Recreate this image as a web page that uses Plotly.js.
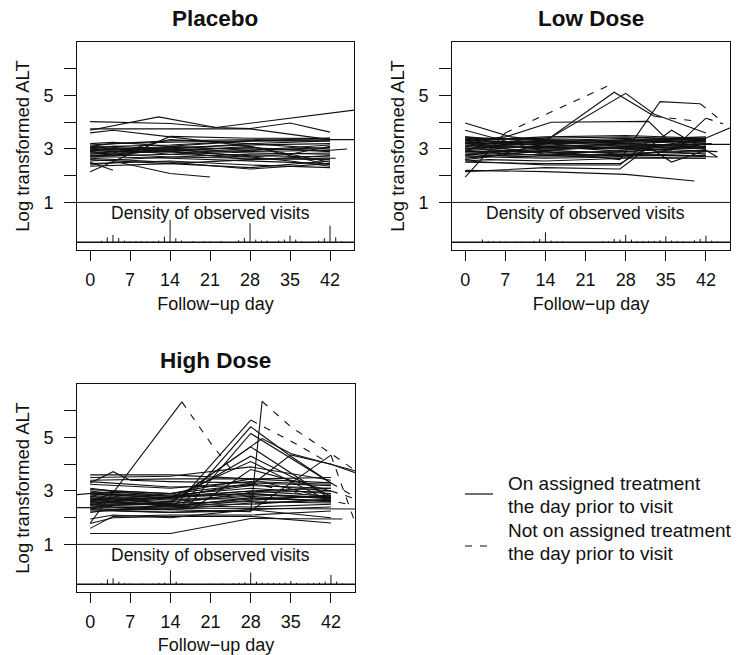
<!DOCTYPE html>
<html><head><meta charset="utf-8">
<script src="https://cdn.plot.ly/plotly-3.0.1.min.js"></script>
<style>html,body{margin:0;padding:0;background:#fff}#chart{width:737px;height:655px}</style>
</head><body><div id="chart"></div>
<script>
// ---------------- data ----------------
const panelTitles = ['Placebo', 'Low Dose', 'High Dose'];
const dayTicks = [0, 7, 14, 21, 28, 35, 42];
const altTickVals = [1, 2, 3, 4, 5, 6];
const altTickText = ['1', '', '3', '', '5', ''];
const legendLabels = ['On assigned treatment', 'the day prior to visit', 'Not on assigned treatment', 'the day prior to visit'];

// Placebo: visit days and log ALT per subject
const placeboDays = [
  [0,12,22,48],[0,14,22,28,35,42],[0,28,42,48],[0,4,14,28,42],[0,5,14,21],
  [0,14,28,42],[0,4],[0,4,14,28,42],[0,4,14,28,42],[0,3,14,28,42],
  [0,4,14,28,42],[0,3,14,28,42,45],[0,4,14,28,42],[0,4,14,28,42,43],[0,4,14,28,35,42],
  [0,4,14,28,42],[0,4,14,28,42],[0,4,14,28,42],[0,4,14,28,42],[0,4,14,28,42],
  [0,4,14,28,42],[0,4,14,28,42],[0,4,14,28,42],[0,14,28,42],[0,4,14,28,42],
  [0,4,14,28,35,42],[0,4,14,28,42],[0,4,14,28,42],[0,4,14,28,42],[0,4,14,28,42],
  [0,4,14,28,42],[0,14,28,42]
];
const placeboALT = [
  [3.7,4.2,3.8,4.5],[4.02,3.95,3.8,3.76,3.97,3.63],[3.75,3.75,3.35,3.35],[3.6,3.7,3.45,3.1,2.4],[2.4,2.5,2.08,1.95],
  [2.15,3.47,3.4,3.4],[2.5,2.2],[3.1,3.2,3.3,3.35,3.4],[3.05,3.1,3.0,3.2,3.3],[3.0,2.95,3.1,3.3,3.35],
  [2.95,2.9,2.9,2.75,2.7],[2.9,3.0,3.05,3.0,2.95,3.0],[2.85,2.8,2.7,2.65,2.6],[2.8,2.85,2.9,2.6,2.65,2.65],[2.75,2.75,3.0,2.7,2.55,2.35],
  [2.7,2.7,2.65,2.55,2.45],[2.65,2.6,2.5,2.25,2.45],[2.6,2.55,2.45,2.3,2.55],[2.55,2.6,2.7,2.8,2.85],[3.0,3.1,3.15,3.3,3.3],
  [3.15,3.2,3.25,3.3,3.4],[2.9,2.85,3.35,3.2,3.0],[2.75,2.8,2.95,3.05,2.9],[2.45,2.55,2.4,2.3],[3.05,3.0,2.9,3.1,2.5],
  [2.95,3.0,2.8,2.7,2.8,3.1],[3.2,3.25,3.1,2.95,3.15],[3.1,3.05,2.95,2.85,2.8],[2.85,2.9,3.05,3.15,3.2],[2.7,2.75,2.8,2.95,3.05],
  [3.0,2.95,3.0,2.9,2.95],[2.35,2.45,2.6,2.75]
];

// Low dose
const lowDays = [
  [0,7,25],[0,4,14,26,33,40],[0,4,15,28,33,42],[0,4,14,27,34,41,45],[0,4,14,28,36,42,45],
  [0,4,14,28,41,47],[0,7,15,32,35,42],[0,8,14,28,42],[0,13,28,42],[0,14,28,40],
  [0,14,27,36,44],[0,14,27,32,36,42],[0,14,27,32,42],[0,4,14,28,42,48],[0,4,14,28,42],
  [0,4,14,28,42],[0,3,14,28,42],[0,4,14,28,42],[0,4,14,28,43],[0,3,14,28,42],
  [0,4,14,28,42],[0,4,14,28,44],[0,4,14,28,42],[0,3,14,28,42],[0,4,14,28,42],
  [0,4,14,28,44],[0,4,14,28,42],[0,4,14,28,42],[0,3,14,28,42],[0,4,14,28,42],
  [0,4,14,28,42],[0,4,14,28,42],[0,4,14,28,42],[0,4,14,28,42],[0,4,14,28,42],
  [0,4,14,28,42],[0,4,14,28,42],[0,4,14,28,42],[0,4,14,28,42],[0,4,14,28,42]
];
const lowALT = [
  [1.95,3.6,5.37],[3.0,3.1,3.3,5.12,4.22,4.05],[3.2,3.2,3.44,5.08,4.3,3.6],[2.9,2.9,2.9,2.6,4.77,4.69,4.0],[3.1,3.0,3.1,3.0,2.95,4.15,3.94],
  [3.2,3.1,3.2,3.0,3.32,3.86],[3.3,3.45,4.0,4.03,3.4,3.3],[3.97,3.45,3.3,3.2,3.1],[3.7,2.95,2.85,2.9],[2.2,2.15,2.05,1.8],
  [2.15,2.3,2.25,3.7,2.7],[2.5,2.45,2.45,3.07,2.51,2.95],[2.55,2.4,2.4,3.3,3.35],[3.0,3.1,3.05,3.15,3.17,3.17],[3.45,3.4,3.35,3.3,3.4],
  [3.4,3.35,3.4,3.45,3.35],[3.35,3.3,3.2,3.25,3.3],[3.3,3.2,3.3,3.4,3.2],[3.25,3.25,3.15,3.1,3.2],[3.2,3.3,3.1,3.2,3.05],
  [3.15,3.05,3.1,2.9,3.1],[3.1,3.15,3.0,3.05,2.9],[3.05,2.95,2.95,2.8,2.95],[3.0,3.0,2.85,2.9,3.1],[2.95,3.1,2.8,2.75,2.75],
  [2.9,2.85,2.75,2.8,2.7],[2.85,2.8,2.9,2.7,2.65],[2.8,2.75,2.7,2.75,2.85],[2.75,2.7,2.95,3.1,3.0],[2.7,2.7,2.65,2.7,3.2],
  [2.65,2.75,2.8,2.95,3.3],[2.6,2.7,3.2,3.3,3.25],[3.4,3.3,3.25,3.35,3.45],[2.55,2.6,2.55,2.65,2.65],[3.35,3.4,3.3,3.2,3.3],
  [3.25,3.15,3.2,3.3,3.4],[3.1,3.2,3.25,3.15,3.0],[2.95,2.9,3.05,3.0,2.8],[2.75,2.85,3.0,3.05,3.1],[3.45,3.35,3.45,3.5,3.4]
];
// 1 = not on assigned treatment the day prior to that visit (null = always on)
const lowOffTx = [
  [0,0,1],[0,0,0,0,0,1],null,[0,0,0,0,0,0,1],[0,0,0,0,0,0,1]
];

// High dose
const highDays = [
  [0,16,21,25],[0,4,14,28,30,35,42,48],[0,4,15,28,36,42],[0,4,16,28,35,42],[0,4,17,28,42,46],
  [0,4,15,30,35,48],[0,4,14,28,42],[0,4,14,28,42],[0,4,14,28,42],[0,14,28,42,46],
  [0,14,28,35,42,48],[0,4,7,14,28,42],[0,14,28,42],[0,14,28,42],[0,14,28,42],
  [0,4,14,28,42],[-4,4,14,28,42],[-6,48],[0,14,28,44],[0,4,14,28,42],
  [0,4,14,28,42],[0,4,14,28,42],[0,4,14,28,42],[0,4,14,28,42],[0,4,14,28,42],
  [0,4,14,28,42],[0,4,14,28,42],[0,4,14,28,42],[0,4,14,28,42],[0,4,14,28,42],
  [0,4,14,28,42],[0,4,14,28,42],[0,4,14,28,42],[0,4,14,28,42],[0,4,14,28,42],
  [0,4,14,28,45],[0,4,14,28,42,47],[0,4,14,28,42],[0,4,14,28,42],[0,4,14,28,42],
  [0,4,14,28,42],[0,4,14,28,42],[0,4,18,28,42]
];
const highALT = [
  [1.8,6.33,4.8,3.7],[2.5,2.4,2.3,2.22,6.35,5.4,4.4,3.5],[2.8,2.7,2.5,5.65,4.75,4.0],[2.6,2.55,2.45,5.4,4.3,3.3],[2.7,2.75,2.4,5.15,3.3,2.8],
  [2.9,2.85,2.7,4.96,4.4,3.65],[2.5,2.5,2.55,4.65,2.7],[2.4,2.45,2.6,4.3,2.8],[2.65,2.6,2.75,4.1,2.6],[2.3,2.2,2.25,4.34,1.95],
  [2.9,2.8,3.2,4.35,4.0,3.55],[3.3,3.72,3.4,3.35,3.3,3.2],[3.6,3.6,3.45,3.3],[3.5,3.55,3.9,3.4],[3.4,3.45,3.45,3.5],
  [3.35,3.3,3.15,3.2,3.1],[2.83,2.98,2.8,2.9,2.75],[2.38,2.32],[1.41,1.41,1.97,1.95],[1.6,2.05,2.1,2.1,2.25],
  [1.78,2.0,2.05,2.05,1.8],[1.95,2.1,2.0,2.3,2.0],[2.2,2.3,2.45,2.4,2.5],[3.0,2.9,2.8,3.0,2.8],[2.95,2.85,2.75,2.9,2.7],
  [2.9,2.8,2.65,2.85,2.75],[2.85,2.75,2.7,2.7,2.65],[2.8,2.7,2.6,2.8,2.6],[2.75,2.65,2.55,2.6,2.55],[2.7,2.6,2.5,2.5,2.7],
  [2.6,2.55,2.45,2.7,2.8],[2.55,2.5,2.5,2.95,3.0],[2.45,2.4,2.35,2.65,2.85],[2.35,2.3,2.3,2.55,2.65],[2.25,2.25,2.2,2.3,2.4],
  [2.65,2.7,2.75,3.3,2.5],[3.05,3.0,2.9,3.25,3.0,2.65],[3.1,3.0,2.9,3.45,2.7],[2.9,2.95,2.85,3.1,2.9],[2.7,2.65,2.75,3.0,3.1],
  [2.5,2.45,2.4,2.75,2.6],[3.25,3.2,3.1,3.35,3.25],[2.55,2.6,2.35,3.8,3.0]
];
const highOffTx = [
  [0,0,1,1],[0,0,0,0,0,1,1,1],[0,0,0,0,1,1],null,[0,0,0,0,0,1],
  null,null,null,null,[0,0,0,0,1],null,null,null,null,null,
  null,null,null,null,null,null,null,null,null,null,null,null,null,null,null,
  null,null,null,null,null,[0,0,0,0,1],[0,0,0,0,0,1]
];

// Density of observed visits (relative heights by follow-up day)
const placeboVisitDays = [2,3,4,5,6,7,8,9,10,11,12,13,14,15,16,18,20,21,23,26,27,28,29,30,31,33,34,35,36,37,40,41,42,43,44];
const placeboVisitDensity = [4,15,22,13,5,3,3,3,3,3,5,17,67,12,5,3,3,3,3,6,13,57,8,5,5,5,8,20,8,3,5,12,50,15,3];
const lowVisitDays = [3,4,5,6,7,9,10,12,13,14,15,16,17,24,25,26,27,28,29,30,31,32,33,34,35,36,37,38,40,41,42,43,44];
const lowVisitDensity = [8,4,3,3,2,2,2,4,10,30,5,3,3,3,3,10,8,22,8,4,4,4,4,6,18,5,4,3,6,10,20,5,3];
const highVisitDays = [2,3,4,5,6,7,9,11,12,13,14,15,16,21,23,25,26,27,28,29,30,31,32,33,34,35,36,38,39,40,41,42,43,44];
const highVisitDensity = [3,15,18,8,3,2,2,2,4,5,42,8,3,2,2,3,4,6,35,8,5,4,4,4,5,10,4,3,4,5,8,28,8,3];

// ---------------- drawing ----------------
const FONT = '"Liberation Sans", Arial, Helvetica, sans-serif';
const INK = '#111';
const X_RANGE = [-2.3, 46.2];
const Y_RANGE = [-0.78, 7.0];
const DENSITY_BASE = -0.49;
const DENSITY_SCALE = 1 / 80.4;
const DASH = '7px,8px';

function subjectTraces(days, alt, off, xa, ya) {
  const s = {x: [], y: []}, d = {x: [], y: []};
  days.forEach((dd, i) => {
    const vv = alt[i], oo = off ? off[i] : null;
    let cur = null, curSt = null;
    const flush = () => { if (cur) { const t = curSt === 'd' ? d : s; t.x.push(...cur.x, null); t.y.push(...cur.y, null); } };
    for (let k = 1; k < dd.length; k++) {
      const st = (oo && oo[k]) ? 'd' : 's';
      if (st !== curSt) { flush(); cur = {x: [dd[k-1]], y: [vv[k-1]]}; curSt = st; }
      cur.x.push(dd[k]); cur.y.push(vv[k]);
    }
    flush();
  });
  return [
    {type: 'scatter', mode: 'lines', x: s.x, y: s.y, xaxis: xa, yaxis: ya, line: {color: INK, width: 1.1}, hoverinfo: 'skip', connectgaps: false},
    {type: 'scatter', mode: 'lines', x: d.x, y: d.y, xaxis: xa, yaxis: ya, line: {color: INK, width: 1.1, dash: DASH}, hoverinfo: 'skip', connectgaps: false}
  ];
}
function densityTrace(days, dens, xa, ya) {
  const x = [], y = [];
  days.forEach((dd, i) => { x.push(dd, dd, null); y.push(DENSITY_BASE, DENSITY_BASE + dens[i] * DENSITY_SCALE, null); });
  return {type: 'scatter', mode: 'lines', x, y, xaxis: xa, yaxis: ya, line: {color: INK, width: 1}, hoverinfo: 'skip'};
}

const W = 737, H = 655;
const boxes = [ // pixel boxes [left, right, top, bottom]
  [77, 354, 42, 250],
  [452, 730, 42, 250],
  [77, 355, 384, 592]
];
const axIds = [['x', 'y'], ['x2', 'y2'], ['x3', 'y3']];

const traces = [];
traces.push(...subjectTraces(placeboDays, placeboALT, null, 'x', 'y'));
traces.push(...subjectTraces(lowDays, lowALT, lowOffTx, 'x2', 'y2'));
traces.push(...subjectTraces(highDays, highALT, highOffTx, 'x3', 'y3'));
traces.push(densityTrace(placeboVisitDays, placeboVisitDensity, 'x', 'y'));
traces.push(densityTrace(lowVisitDays, lowVisitDensity, 'x2', 'y2'));
traces.push(densityTrace(highVisitDays, highVisitDensity, 'x3', 'y3'));

const layout = {
  width: W, height: H, margin: {l: 0, r: 0, t: 0, b: 0}, showlegend: false,
  paper_bgcolor: '#fff', plot_bgcolor: '#fff',
  font: {family: FONT, size: 18, color: INK},
  shapes: [], annotations: []
};
boxes.forEach((b, i) => {
  const [xa, ya] = axIds[i];
  const xk = i === 0 ? 'xaxis' : 'xaxis' + (i + 1);
  const yk = i === 0 ? 'yaxis' : 'yaxis' + (i + 1);
  layout[xk] = {
    domain: [b[0] / W, b[1] / W], anchor: ya, range: X_RANGE, tickvals: dayTicks,
    ticks: 'outside', ticklen: 10, tickwidth: 1, tickcolor: INK,
    showline: true, mirror: true, linecolor: INK, linewidth: 1,
    showgrid: false, zeroline: false, tickfont: {size: 18, family: FONT},
    ticklabelstandoff: 3,
    title: {text: 'Follow\u2212up day', font: {size: 18, family: FONT}, standoff: 8}
  };
  layout[yk] = {
    domain: [1 - b[3] / H, 1 - b[2] / H], anchor: xa, range: Y_RANGE,
    tickvals: altTickVals, ticktext: altTickText,
    ticks: 'outside', ticklen: 12, tickwidth: 1, tickcolor: INK,
    showline: true, mirror: true, linecolor: INK, linewidth: 1,
    showgrid: false, zeroline: false, tickfont: {size: 18, family: FONT},
    ticklabelstandoff: 7,
    title: {text: 'Log transformed ALT', font: {size: 18.5, family: FONT}, standoff: 8}
  };
  layout.shapes.push({type: 'line', xref: xa + ' domain', yref: ya, x0: 0, x1: 1, y0: 1, y1: 1, line: {color: INK, width: 1}});
  layout.shapes.push({type: 'line', xref: xa + ' domain', yref: ya, x0: 0, x1: 1, y0: DENSITY_BASE, y1: DENSITY_BASE, line: {color: INK, width: 1.3}});
  layout.annotations.push({xref: xa, yref: ya, x: 21, y: 0.62, text: 'Density of observed visits', showarrow: false, font: {size: 17.5, family: FONT, color: INK}, xanchor: 'center', yanchor: 'middle'});
  layout.annotations.push({xref: xa + ' domain', yref: 'paper', x: 0.5, y: 1 - (b[2] - 24) / H, text: '<b>' + panelTitles[i] + '</b>', showarrow: false, font: {size: 22.5, family: FONT, color: INK}, xanchor: 'center', yanchor: 'middle'});
});

// legend (drawn in the empty fourth cell)
const legX0 = 465, legX1 = 493, legTextX = 506;
layout.shapes.push({type: 'line', xref: 'paper', yref: 'paper', x0: legX0 / W, x1: legX1 / W, y0: 1 - 494 / H, y1: 1 - 494 / H, line: {color: INK, width: 1.2}});
layout.shapes.push({type: 'line', xref: 'paper', yref: 'paper', x0: legX0 / W, x1: legX1 / W, y0: 1 - 546 / H, y1: 1 - 546 / H, line: {color: INK, width: 1.2, dash: DASH}});
[483, 506, 530, 553].forEach((py, i) => {
  layout.annotations.push({xref: 'paper', yref: 'paper', x: legTextX / W, y: 1 - py / H, text: legendLabels[i], showarrow: false, xanchor: 'left', yanchor: 'middle', font: {size: 19, family: FONT, color: INK}});
});

Plotly.newPlot('chart', traces, layout, {staticPlot: true, displayModeBar: false});
</script>
</body></html>
